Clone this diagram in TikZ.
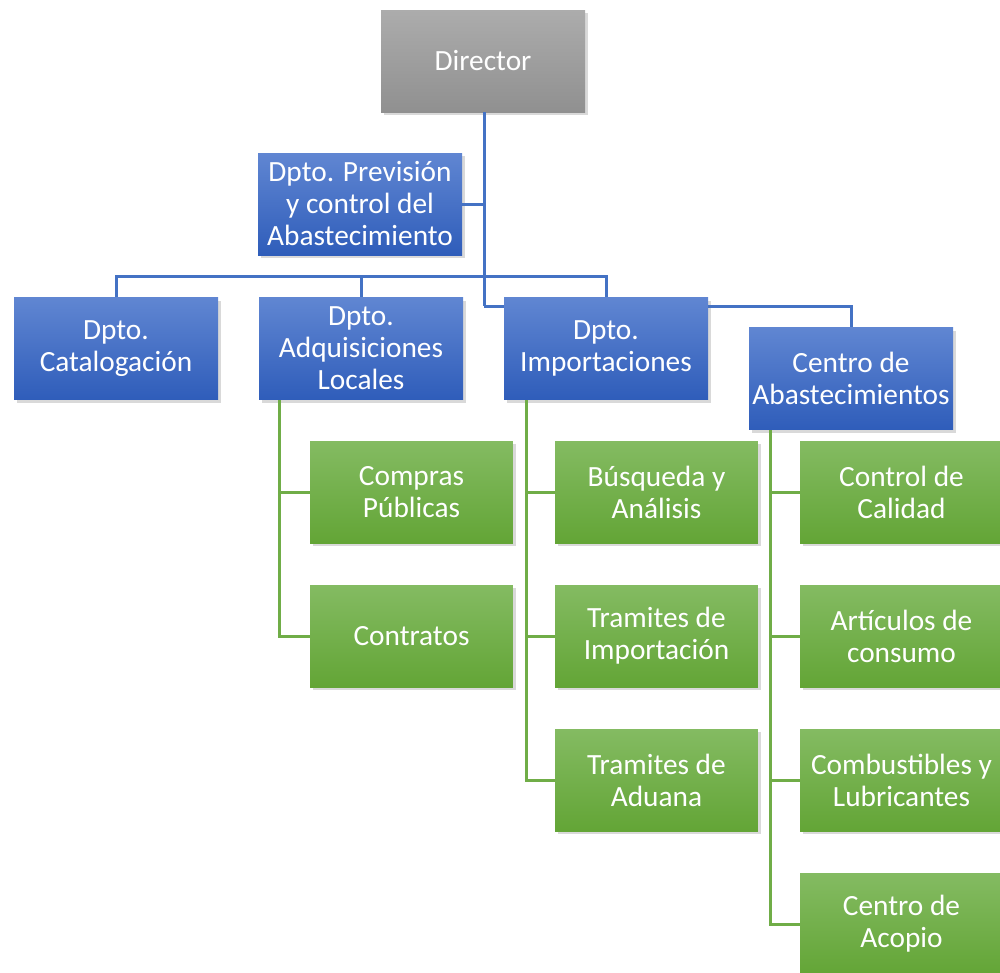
\documentclass[tikz,border=0pt]{standalone}
\usepackage{fontspec}
\setmainfont{Carlito}
\usetikzlibrary{shadows}
\definecolor{blueTop}{RGB}{96,134,210}
\definecolor{blueBot}{RGB}{47,93,186}
\definecolor{greenTop}{RGB}{132,187,98}
\definecolor{greenBot}{RGB}{99,165,54}
\definecolor{grayTop}{RGB}{172,172,172}
\definecolor{grayBot}{RGB}{144,144,144}
\definecolor{bluePath}{RGB}{68,114,196}
\definecolor{greenPath}{RGB}{112,173,71}
\begin{document}
\begin{tikzpicture}[
                x = 0.75pt, y = -0.75pt,
                box/.style = {rectangle, text = white, align = center, inner sep = 0mm,
                    minimum width = 153pt, minimum height = 76.5pt,
                    font = \fontsize{22}{24}\selectfont,
                    drop shadow = {opacity = 0.3, shadow xshift = 2pt, shadow yshift = -2.5pt}},
                boss/.style = {box, top color = grayTop, bottom color = grayBot},
                dept/.style = {box, top color = blueTop, bottom color = blueBot},
                unit/.style = {box, minimum width = 152pt, top color = greenTop, bottom color = greenBot},
                bline/.style = {draw, bluePath, line width = 2.25pt},
                gline/.style = {draw, greenPath, line width = 2.25pt},
            ]
            \useasboundingbox (0, 0) rectangle (1000, 972);

            \node (dir) at (483, 61) [boss] {Director};
            \node (prev) at (360, 204) [dept] {Dpto. Previsión\\y control del\\Abastecimiento};

            \node (cat) at (116, 348.5) [dept] {Dpto.\\Catalogación};
            \node (adq) at (361, 348.5) [dept] {Dpto.\\Adquisiciones\\Locales};
            \node (imp) at (606, 348.5) [dept] {Dpto.\\Importaciones};
            \node (cen) at (851, 378.5) [dept] {Centro de\\Abastecimientos};

            \node (com) at (411.5, 492) [unit] {Compras\\Públicas};
            \node (con) at (411.5, 636) [unit] {Contratos};

            \node (bus) at (656.5, 492) [unit] {Búsqueda y\\Análisis};
            \node (tim) at (656.5, 636) [unit] {Tramites de\\Importación};
            \node (tad) at (656.5, 780) [unit] {Tramites de\\Aduana};

            \node (cal) at (901.5, 492) [unit] {Control de\\Calidad};
            \node (art) at (901.5, 636) [unit] {Artículos de\\consumo};
            \node (comb) at (901.5, 780) [unit] {Combustibles y\\Lubricantes};
            \node (aco) at (901.5, 924) [unit] {Centro de\\Acopio};

            % free ends of the connectors
            \coordinate (busA) at (484, 276);
            \coordinate (busB) at (484, 306);
            \coordinate (adqL) at (279, 400);
            \coordinate (impL) at (526, 400);
            \coordinate (cenL) at (770, 430);

            % blue connectors
            \path[bline] (dir.south -| busB) -- (busB);
            \path[bline] (cat.north) |- (busA) -| (imp.north);
            \path[bline] (adq.north) -- (adq.north |- busA);
            \path[bline] (prev.east) -- (prev.east -| busB);
            \path[bline] (busB) -- (imp.west |- busB);
            \path[bline] (imp.east |- busB) -| (cen.north);

            % green connectors
            \path[gline] (adqL) |- (con.west);
            \path[gline] (adqL |- com.west) -- (com.west);
            \path[gline] (impL) |- (tad.west);
            \path[gline] (impL |- bus.west) -- (bus.west);
            \path[gline] (impL |- tim.west) -- (tim.west);
            \path[gline] (cenL) |- (aco.west);
            \path[gline] (cenL |- cal.west) -- (cal.west);
            \path[gline] (cenL |- art.west) -- (art.west);
            \path[gline] (cenL |- comb.west) -- (comb.west);
        \end{tikzpicture}
\end{document}
